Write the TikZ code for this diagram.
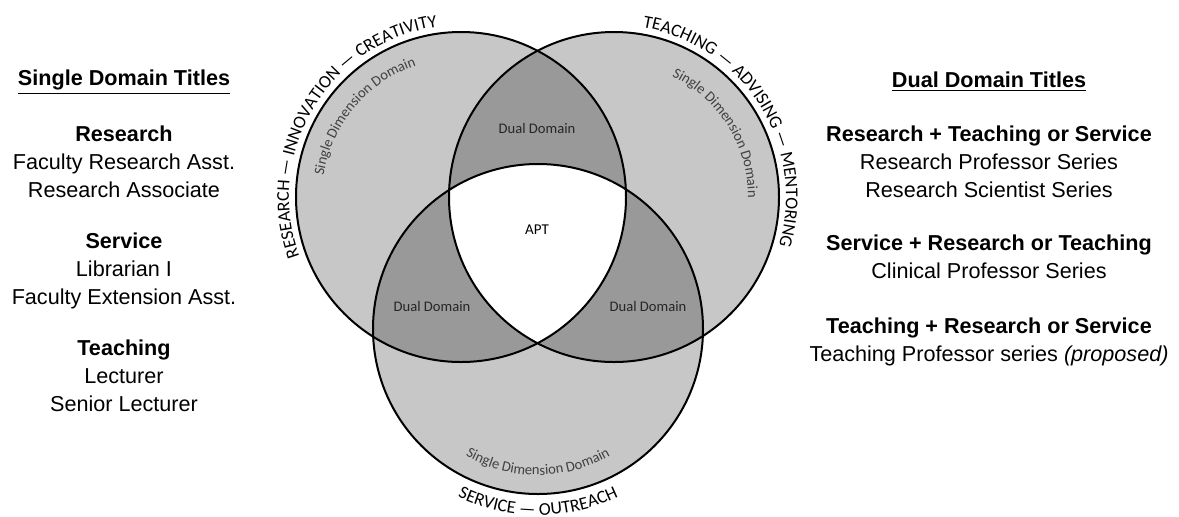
\documentclass[tikz,border=0pt]{standalone}
\usepackage{fontspec}
\setmainfont{Liberation Sans}
\newfontfamily\vennfont{Carlito}
\usetikzlibrary{decorations.text}

\tikzset{
  titlehead/.style={font=\fontsize{10.8}{14}\selectfont\bfseries, align=center, inner sep=0pt},
  titlegroup/.style={font=\fontsize{10.8}{14}\selectfont, align=center, inner sep=0pt},
  single/.style={fill=black!22},
  dual/.style={fill=black!40},
  vennline/.style={draw=black, line width=1pt},
  lenslabel/.style={font=\vennfont\fontsize{7.3}{8}\selectfont, text=black!85, inner sep=0pt},
  arclabel/.style={decorate, decoration={text along path, text align=center,
    text={|\vennfont\fontsize{9}{9}\selectfont|#1}}},
  innerlabel/.style={decorate, decoration={text along path, text align=center,
    text={|\vennfont\fontsize{7.3}{8}\selectfont\color{black!75}|#1}}},
}

\begin{document}
\begin{tikzpicture}[x=0.5pt, y=-0.5pt]
  \useasboundingbox (0,0) rectangle (1179,516);

  % circle centres
  \coordinate (R) at (461,197);
  \coordinate (T) at (614,197);
  \coordinate (S) at (538,329);

  % shaded regions
  \fill[single] (R) circle[radius=82.5pt];
  \fill[single] (T) circle[radius=82.5pt];
  \fill[single] (S) circle[radius=82.5pt];
  \begin{scope}
    \clip (R) circle[radius=82.5pt];
    \fill[dual] (T) circle[radius=82.5pt];
    \fill[dual] (S) circle[radius=82.5pt];
  \end{scope}
  \begin{scope}
    \clip (T) circle[radius=82.5pt];
    \fill[dual] (S) circle[radius=82.5pt];
  \end{scope}
  \begin{scope}
    \clip (R) circle[radius=82.5pt];
    \clip (T) circle[radius=82.5pt];
    \fill[white] (S) circle[radius=82.5pt];
  \end{scope}
  \draw[vennline] (R) circle[radius=82.5pt];
  \draw[vennline] (T) circle[radius=82.5pt];
  \draw[vennline] (S) circle[radius=82.5pt];

  % labels inside
  \node[lenslabel] (dualRT) at (537,128) {Dual Domain};
  \node[lenslabel] (dualRS) at (432,306) {Dual Domain};
  \node[lenslabel] (dualTS) at (648,306) {Dual Domain};
  \node[lenslabel, text=black, font=\vennfont\fontsize{7.5}{8}\selectfont] (apt) at (537,230) {APT};

  \path[innerlabel=Single Dimension Domain] (R) ++(190:69.5pt) arc[start angle=190, end angle=90, radius=69.5pt];
  \path[innerlabel=Single Dimension Domain] (T) ++(82:67pt) arc[start angle=82, end angle=-18, radius=67pt];
  \path[innerlabel=Single Dimension Domain] (S) ++(220:73pt) arc[start angle=220, end angle=320, radius=73pt];

  % labels outside
  \path[arclabel=RESEARCH — INNOVATION — CREATIVITY] (R) ++(230:86pt) arc[start angle=230, end angle=68, radius=86pt];
  \path[arclabel=TEACHING — ADVISING — MENTORING] (T) ++(112:86pt) arc[start angle=112, end angle=-48, radius=86pt];
  \path[arclabel=SERVICE — OUTREACH] (S) ++(225:93pt) arc[start angle=225, end angle=315, radius=93pt];

  % single domain column
  \node[titlehead] (singlehead) at (124,82) {\underline{Single Domain Titles}};
  \node[titlegroup] (singleres) at (124,162) {\textbf{Research}\\Faculty Research Asst.\\Research Associate};
  \node[titlegroup] (singleser) at (124,271) {\textbf{Service}\\Librarian I\\Faculty Extension Asst.};
  \node[titlegroup] (singletea) at (124,376) {\textbf{Teaching}\\Lecturer\\Senior Lecturer};

  % dual domain column
  \node[titlehead] (dualhead) at (989,82) {\underline{Dual Domain Titles}};
  \node[titlegroup] (dualres) at (989,162) {\textbf{Research + Teaching or Service}\\Research Professor Series\\Research Scientist Series};
  \node[titlegroup] (dualser) at (989,257) {\textbf{Service + Research or Teaching}\\Clinical Professor Series};
  \node[titlegroup] (dualtea) at (989,342) {\textbf{Teaching + Research or Service}\\Teaching Professor series \textit{(proposed)}};
\end{tikzpicture}
\end{document}
